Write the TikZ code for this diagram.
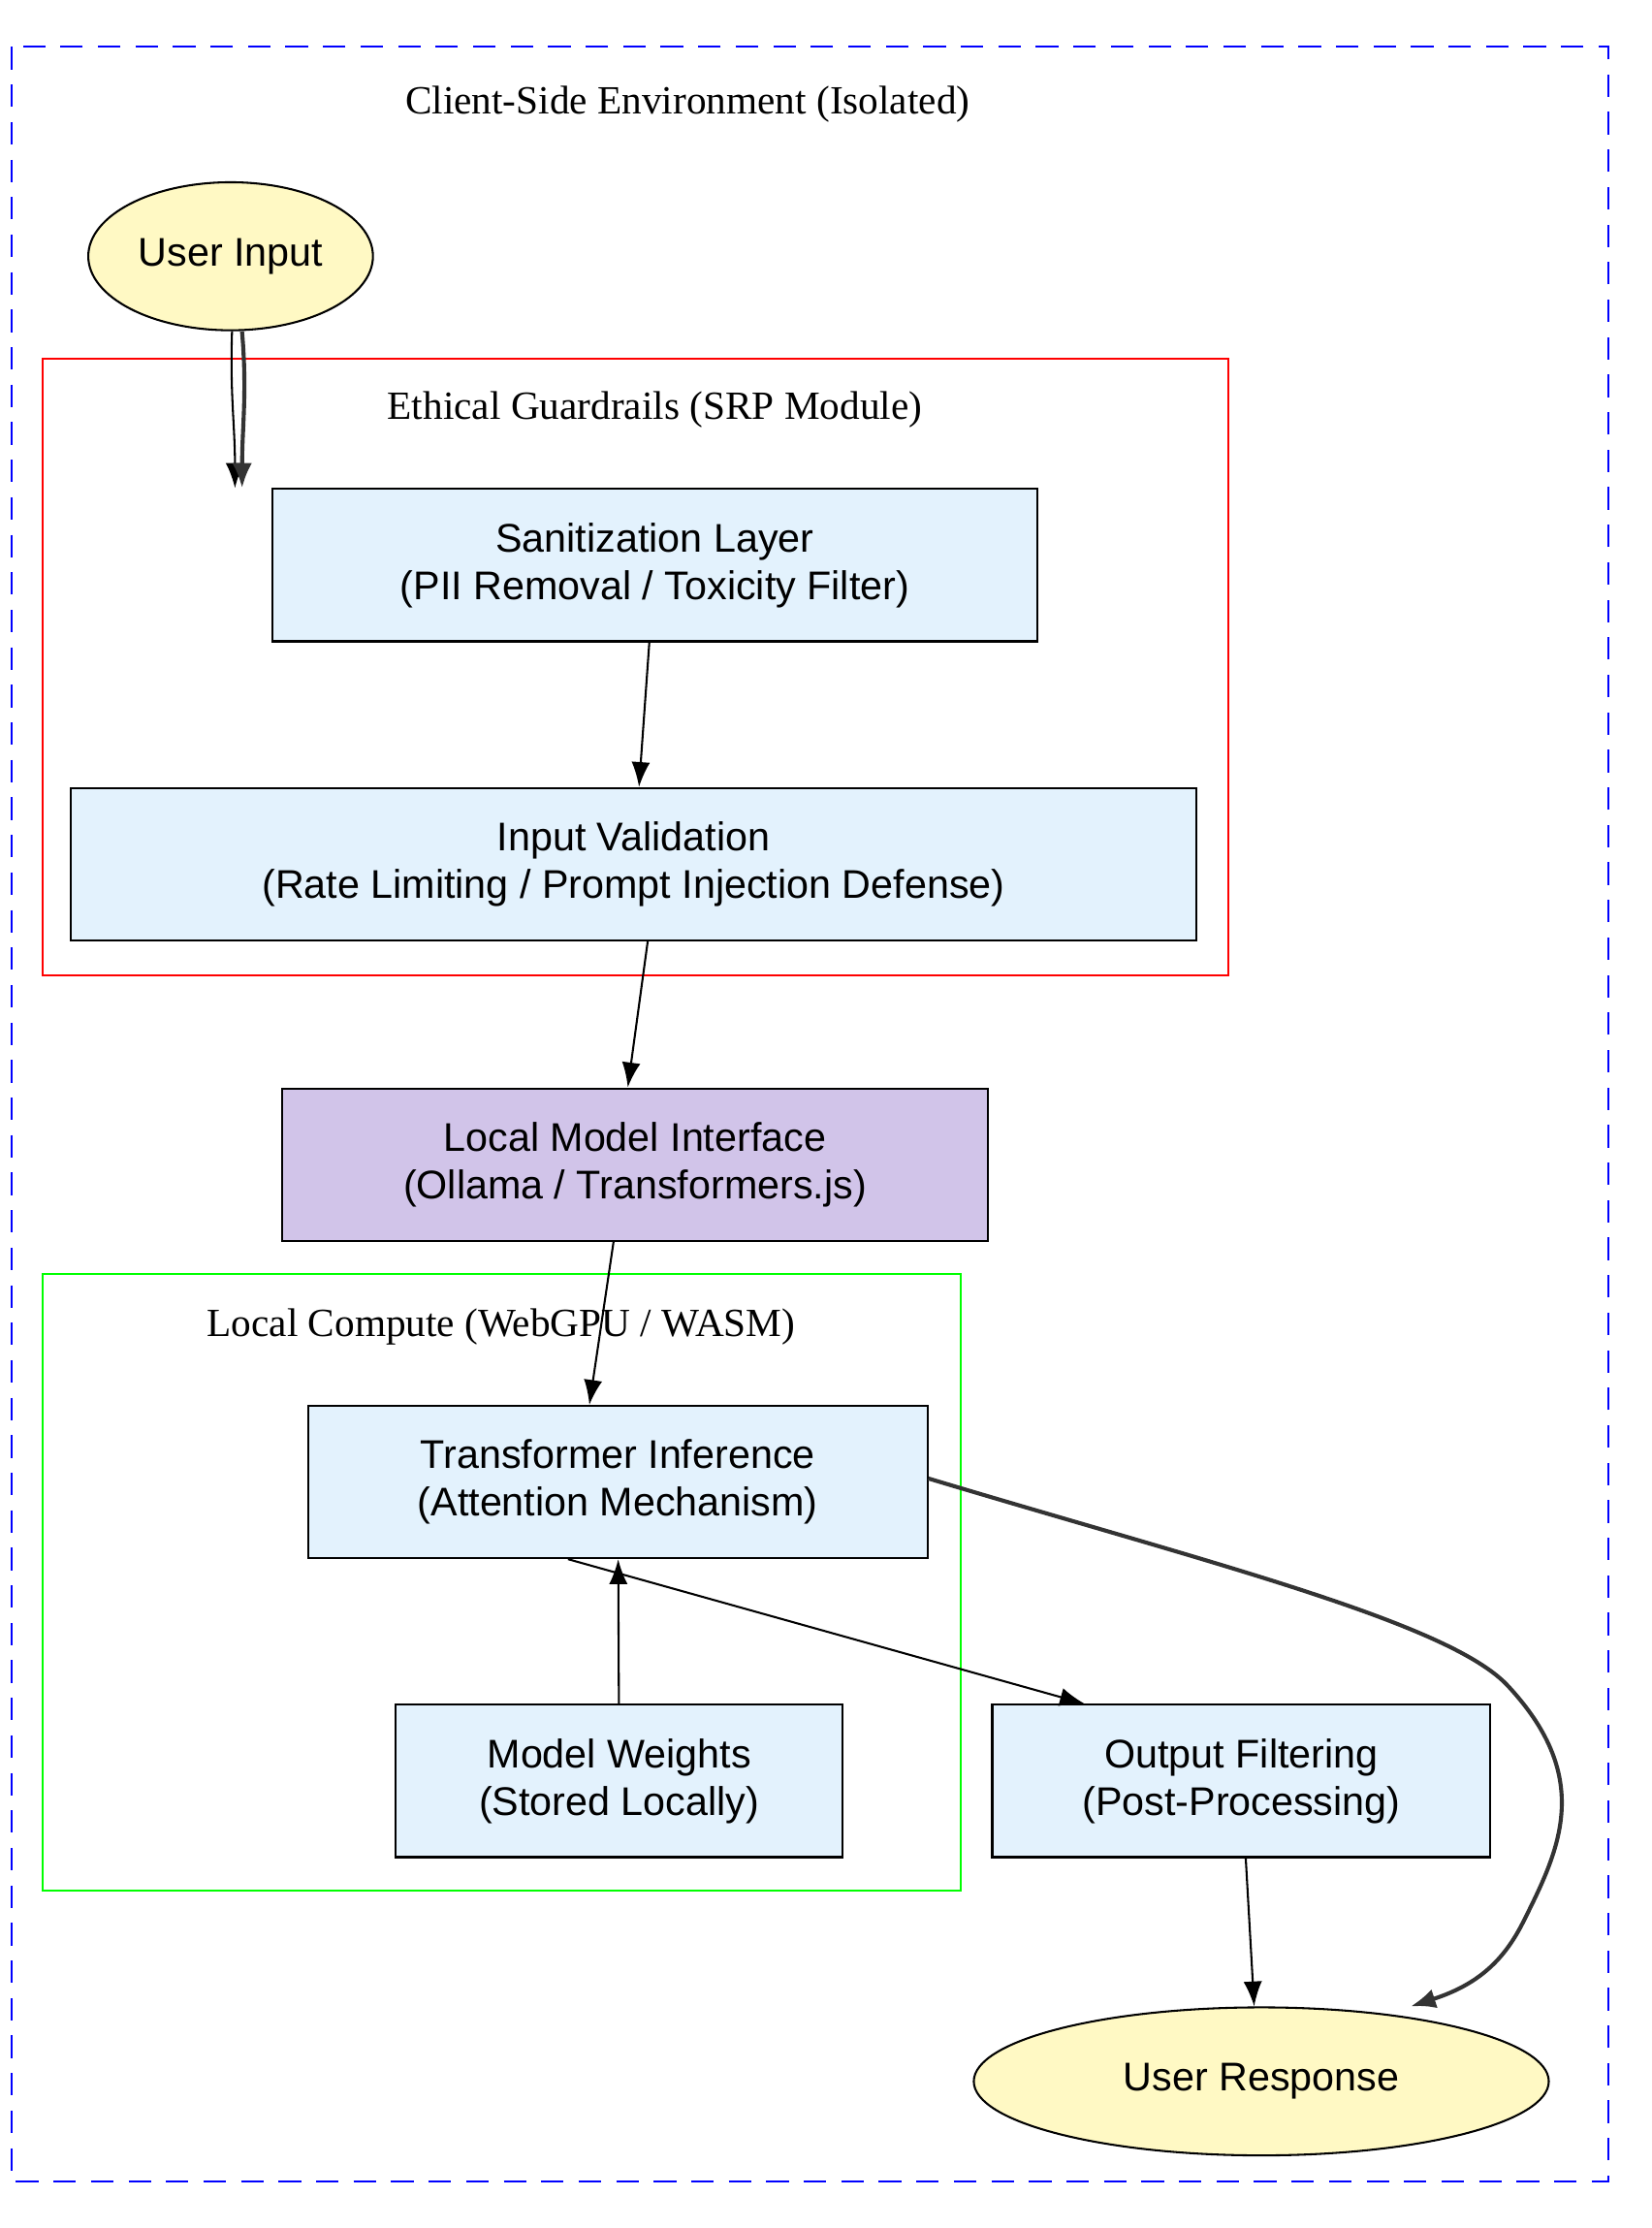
\documentclass[tikz,border=0pt]{standalone}
\usepackage{fontspec}
\setmainfont{Liberation Serif}
\setsansfont{Liberation Sans}
\usetikzlibrary{arrows.meta,shapes.geometric}
\definecolor{boxblue}{HTML}{E3F2FD}
\definecolor{boxlav}{HTML}{D1C4E9}
\definecolor{ovalyel}{HTML}{FFF9C4}
\tikzset{
  stage/.style={draw, thick, fill=boxblue, minimum height=2.14cm, align=center,
    font=\sffamily\fontsize{16}{19}\selectfont},
  oval/.style={draw, thick, ellipse, fill=ovalyel, minimum height=2.08cm,
    font=\sffamily\fontsize{16}{19}\selectfont},
  title/.style={font=\fontsize{16}{19}\selectfont},
  flow/.style={thick, -{Latex[length=3.5mm, width=2.6mm]}},
  heavy/.style={line width=1.6pt, draw=black!80, -{Latex[length=3.5mm, width=2.8mm]}}
}
\begin{document}
\begin{tikzpicture}[x=0.02cm, y=-0.02cm]
  \useasboundingbox (0,0) rectangle (1160,1565);
  % clusters
  \draw[blue, thick, dashed, dash pattern=on 9pt off 6pt] (8,33) rectangle (1130,1532);
  \node[title] (envtitle) at (483,73) {Client-Side Environment (Isolated)};
  \draw[red, thick] (30,252) rectangle (863,685);
  \node[title] (srptitle) at (460,288) {Ethical Guardrails (SRP Module)};
  \draw[green, thick] (30,895) rectangle (675,1328);
  \node[title] (gputitle) at (352,932) {Local Compute (WebGPU / WASM)};

  % nodes
  \node[oval, minimum width=3.68cm] (ui) at (162,180) {User Input};
  \node[stage, minimum width=10.74cm] (san) at (460,397) {Sanitization Layer\\(PII Removal / Toxicity Filter)};
  \node[stage, minimum width=15.82cm] (val) at (445,607) {Input Validation\\(Rate Limiting / Prompt Injection Defense)};
  \node[stage, fill=boxlav, minimum width=9.92cm] (lmi) at (446,818) {Local Model Interface\\(Ollama / Transformers.js)};
  \node[stage, minimum width=8.7cm] (inf) at (434,1041) {Transformer Inference\\(Attention Mechanism)};
  \node[stage, minimum width=6.28cm] (wts) at (435,1251) {Model Weights\\(Stored Locally)};
  \node[stage, minimum width=7.0cm] (out) at (872,1251) {Output Filtering\\(Post-Processing)};
  \node[oval, minimum width=8.08cm] (ur) at (886,1462) {User Response};

  % edges
  \draw[flow] ([xshift=0.02cm]ui.south) to[out=-92, in=90] ([xshift=-5.9cm]san.north);
  \draw[heavy] ([xshift=0.16cm]ui.south) to[out=-85, in=90] ([xshift=-5.8cm]san.north);
  \draw[flow] (san) -- (val);
  \draw[flow] ([xshift=0.2cm]val.south) -- ([xshift=-0.1cm]lmi.north);
  \draw[flow] ([xshift=-0.3cm]lmi.south) -- ([xshift=-0.4cm]inf.north);
  \draw[flow] (wts) -- (inf);
  \draw[flow] ([xshift=-0.7cm]inf.south) -- ([xshift=-2.2cm]out.north);
  \draw[flow] (out) -- ([xshift=-0.1cm]ur.north);
  \draw[heavy] ([yshift=0.05cm]inf.east) .. controls (850,1098) and (1020,1140) .. (1060,1185)
    .. controls (1120,1250) and (1095,1300) .. (1070,1350)
    .. controls (1055,1380) and (1035,1395) .. ([xshift=2.1cm]ur.north);
\end{tikzpicture}
\end{document}
